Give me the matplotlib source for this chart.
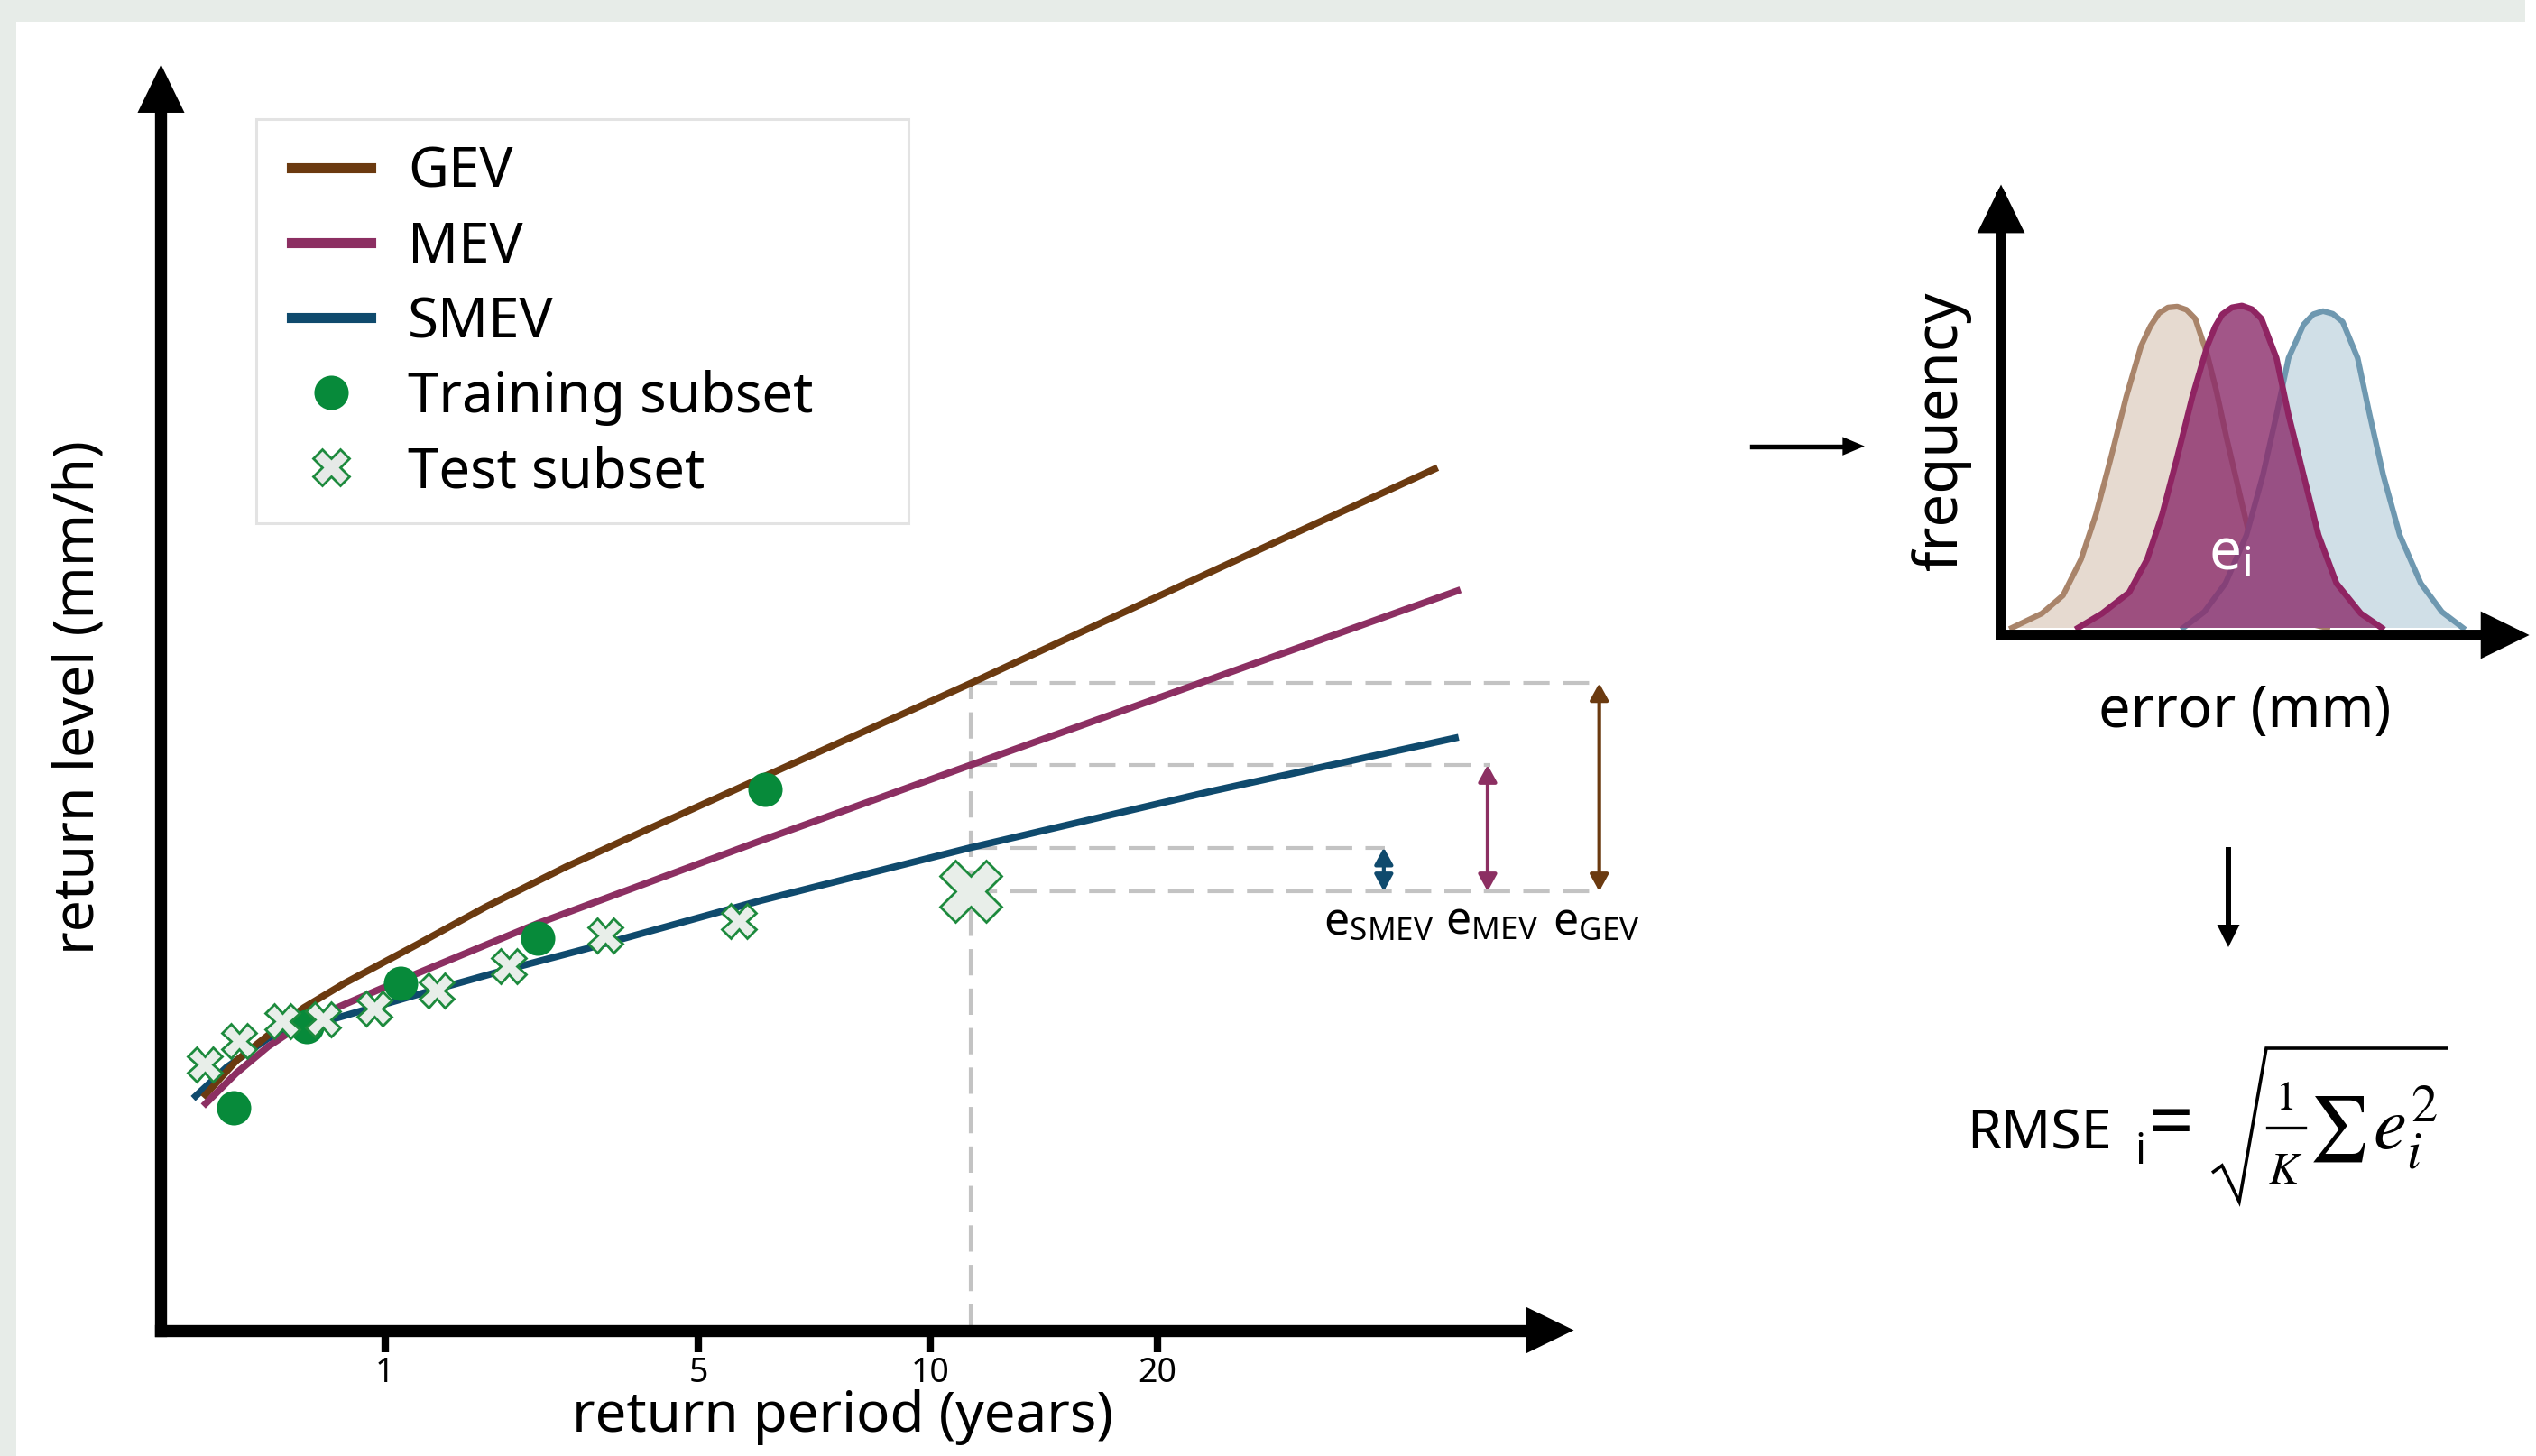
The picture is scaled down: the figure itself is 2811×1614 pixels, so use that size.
import matplotlib
matplotlib.use("Agg")
import matplotlib.pyplot as plt
import numpy as np
from matplotlib.lines import Line2D
from matplotlib.patches import Rectangle, FancyArrowPatch, ArrowStyle

plt.rcParams['font.family'] = ['Noto Sans', 'DejaVu Sans']
plt.rcParams['mathtext.fontset'] = 'stix'

# ---------------- data (schematic units) ----------------
xtick_pos = [15.84, 38.03, 54.45, 70.5]
xtick_labels = ["1", "5", "10", "20"]

gev_x = [3.14, 5.32, 7.60, 10.12, 12.99, 18.14, 22.95, 28.67, 34.40, 42.75, 57.33, 74.46, 90.14]
gev_y = [18.59, 21.28, 23.32, 25.49, 27.41, 30.48, 33.42, 36.61, 39.55, 43.77, 51.12, 59.99, 68.04]
mev_x = [3.16, 5.30, 7.58, 10.16, 13.01, 17.27, 26.68, 34.39, 42.40, 57.33, 74.46, 91.75]
mev_y = [17.90, 20.28, 22.41, 24.32, 25.75, 27.79, 32.14, 35.33, 38.65, 44.66, 51.50, 58.41]
smev_x = [2.45, 4.63, 7.58, 11.84, 18.14, 23.86, 30.39, 42.40, 57.33, 74.46, 91.61]
smev_y = [18.49, 20.76, 23.06, 24.47, 26.51, 28.30, 30.22, 33.93, 38.13, 42.61, 46.79]

train_x = [5.11, 10.29, 16.94, 26.68, 42.77]
train_y = [17.60, 23.96, 27.41, 30.99, 42.75]
test_x = [3.08, 5.53, 8.59, 11.44, 15.08, 19.50, 24.60, 31.47, 40.88]
test_y = [20.99, 22.85, 24.43, 24.56, 25.39, 26.86, 28.73, 31.19, 32.35]
sel_x = 57.33   # selected test return period
sel_y = 34.67   # observed test value

legend_labels = ["GEV", "MEV", "SMEV", "Training subset", "Test subset"]
err_labels = ["SMEV", "MEV", "GEV"]

# error distributions (schematic)
dgev_x = [2.05, 7.74, 11.73, 15.15, 17.98, 20.83, 23.69, 26.52, 28.3, 29.94, 31.6, 33.35, 35.1, 36.77,
          39.05, 40.76, 42.74, 44.74, 46.74, 49.3, 52.7, 57.26, 61.8]
dgev_y = [1.6, 4.8, 8.81, 16.82, 26.83, 39.5, 52.85, 64.2, 68.6, 71.5, 72.7, 72.9, 72.2, 70.2,
          62.2, 54.2, 43.5, 33.5, 23.5, 13.5, 6.1, 2.8, 1.6]
dmev_x = [14.57, 19.13, 24.25, 27.66, 30.52, 33.35, 36.2, 39.05, 40.5, 41.89, 43.7, 45.6, 47.5, 49.3,
          52.13, 54.42, 57.26, 60.1, 63.5, 68.1, 72.06]
dmev_y = [1.6, 4.8, 9.47, 16.82, 26.83, 39.5, 52.85, 64.2, 68.4, 71.2, 72.7, 73.1, 72.3, 70.2,
          61.5, 48.85, 35.5, 22.16, 11.47, 4.8, 1.6]
dsmev_x = [34.49, 38.47, 42.47, 46.45, 49.57, 52.13, 54.42, 57.26, 59.1, 60.96, 62.8, 64.67,
           67.5, 69.79, 72.35, 75.48, 79.46, 83.45, 87.43]
dsmev_y = [1.6, 5.15, 11.47, 22.16, 35.5, 48.85, 61.5, 68.9, 71.2, 71.9, 71.3, 69.5,
           61.5, 48.85, 35.5, 22.16, 11.47, 5.15, 1.6]

# ---------------- styles ----------------
C_GEV = "#6b3a10"
C_MEV = "#8c2f62"
C_SMEV = "#0f4a6d"
C_TRAIN = "#078a3a"
C_TEST_E = "#1d8a3d"
C_TEST_F = "#e8eee9"
C_DASH = "#c3c3c3"
C_BAND = "#e7ece8"

W, H = 2811, 1614
fig = plt.figure(figsize=(W / 100, H / 100), dpi=100)
fig.patch.set_facecolor("white")


def fx(px):
    return px / W


def fy(py):
    return 1 - py / H


# background bands
fig.add_artist(Rectangle((0, 0), fx(18), 1, transform=fig.transFigure,
                         facecolor=C_BAND, edgecolor="none", zorder=0))
fig.add_artist(Rectangle((0, fy(24)), fx(2799), 24 / H, transform=fig.transFigure,
                         facecolor=C_BAND, edgecolor="none", zorder=0))


def head(container, p0, p1, transform, hl_pt, hw_pt):
    ms = hl_pt / 0.4
    a = FancyArrowPatch(p0, p1, transform=transform,
                        arrowstyle=ArrowStyle("-|>", head_length=0.4, head_width=hw_pt / 2 / ms),
                        mutation_scale=ms, lw=0, color="k", shrinkA=0, shrinkB=0,
                        clip_on=False, zorder=6)
    if hasattr(container, "add_patch"):
        container.add_patch(a)
    else:
        container.add_artist(a)


def axis_arrows(ax, lw, hl, hw):
    ax.add_line(Line2D([0, 0], [0, 0.97], transform=ax.transAxes, lw=lw, color="k",
                       solid_capstyle="projecting", clip_on=False, zorder=6))
    ax.add_line(Line2D([0, 0.97], [0, 0], transform=ax.transAxes, lw=lw, color="k",
                       solid_capstyle="projecting", clip_on=False, zorder=6))
    head(ax, (0, 0), (0, 1), ax.transAxes, hl, hw)
    head(ax, (0, 0), (1, 0), ax.transAxes, hl, hw)


# ---------------- main panel ----------------
ax = fig.add_axes([0.0635, 0.08643, 0.55709, 0.86927])
ax.set_xlim(0, 100)
ax.set_ylim(0, 100)
ax.patch.set_alpha(0)
for s in ax.spines.values():
    s.set_visible(False)
ax.set_yticks([])
ax.set_xticks(xtick_pos, xtick_labels)
ax.tick_params(axis="x", length=17, width=6, pad=3.5, labelsize=27, color="k")
axis_arrows(ax, 9.6, 38.5, 37.5)

ax.set_xlabel("return period (years)", fontsize=44.5)
ax.xaxis.label.set_va("baseline")
ax.xaxis.set_label_coords(0.4824, -0.080)
ax.set_ylabel("return level (mm/h)", fontsize=45)
ax.yaxis.set_label_coords(-0.038, 0.50)

# curves
ax.plot(smev_x, smev_y, color=C_SMEV, lw=5.5, solid_joinstyle="round", zorder=2)
ax.plot(gev_x, gev_y, color=C_GEV, lw=5.5, solid_joinstyle="round", zorder=2)
ax.plot(mev_x, mev_y, color=C_MEV, lw=5.5, solid_joinstyle="round", zorder=2)

# dashed guide lines
gev_sel = np.interp(sel_x, gev_x, gev_y)
mev_sel = np.interp(sel_x, mev_x, mev_y)
smev_sel = np.interp(sel_x, smev_x, smev_y)
dash = dict(color=C_DASH, lw=3, ls=(0, (7, 3.5)), clip_on=False, zorder=1)
ax.plot([sel_x, sel_x], [0, gev_sel], **dash)
ax.plot([sel_x, 101.6], [gev_sel, gev_sel], **dash)
ax.plot([sel_x, 94.1], [mev_sel, mev_sel], **dash)
ax.plot([sel_x, 86.6], [smev_sel, smev_sel], **dash)
ax.plot([sel_x, 101.6], [sel_y, sel_y], **dash)

# points
ax.plot(train_x, train_y, ls="none", marker="o", ms=27.4, color=C_TRAIN, mec="none", zorder=3)
ax.plot(test_x, test_y, ls="none", marker="X", ms=27, mfc=C_TEST_F, mec=C_TEST_E, mew=2, zorder=4)
ax.plot([sel_x], [sel_y], ls="none", marker="X", ms=49, mfc=C_TEST_F, mec=C_TEST_E, mew=2,
        zorder=4, clip_on=False)

# error arrows and labels
err_x = [86.55, 93.9, 101.8]
err_lx = [86.2, 94.2, 101.6]
err_top = [smev_sel, mev_sel, gev_sel]
err_col = [C_SMEV, C_MEV, C_GEV]
for ex, lx, top, col, lab in zip(err_x, err_lx, err_top, err_col, err_labels):
    ax.annotate("", xy=(ex, top), xytext=(ex, sel_y),
                arrowprops=dict(arrowstyle=ArrowStyle("<|-|>", head_length=0.4, head_width=0.22),
                                mutation_scale=28, lw=3, color=col, shrinkA=0, shrinkB=0),
                annotation_clip=False)
    ax.text(lx, 31.3, r"e$_{\mathregular{%s}}$" % lab, fontsize=36, ha="center",
            va="baseline", clip_on=False)

# legend
handles = [Line2D([], [], color=C_GEV, lw=8),
           Line2D([], [], color=C_MEV, lw=8),
           Line2D([], [], color=C_SMEV, lw=8),
           Line2D([], [], ls="none", marker="o", ms=27.4, color=C_TRAIN, mec="none"),
           Line2D([], [], ls="none", marker="X", ms=29, mfc="#e6e9e7", mec=C_TEST_E, mew=2)]
leg = ax.legend(handles, legend_labels, loc="upper left", bbox_to_anchor=(fx(323.3), fy(161)),
                bbox_transform=fig.transFigure, frameon=False, fontsize=44.5, handlelength=1.42,
                handletextpad=0.66, labelspacing=0.34, borderpad=0, borderaxespad=0)
leg.set_zorder(8)
ax.add_patch(Rectangle((fx(284), fy(580.4)), fx(1007 - 284), (580.4 - 131.7) / H,
                       transform=fig.transFigure, facecolor="white", edgecolor="#e3e3e3",
                       lw=2.2, clip_on=False, zorder=7))

# ---------------- connecting arrows ----------------
fig.add_artist(Line2D([fx(1941.9), fx(2050)], [fy(494.6)] * 2, transform=fig.transFigure,
                      lw=3.9, color="k"))
head(fig, (fx(1941.9), fy(494.6)), (fx(2066.8), fy(494.6)), fig.transFigure, 17.6, 14.8)
fig.add_artist(Line2D([fx(2470)] * 2, [fy(941.7), fy(1035)], transform=fig.transFigure,
                      lw=4.3, color="k"))
head(fig, (fx(2470), fy(941.7)), (fx(2470), fy(1050)), fig.transFigure, 18, 18)

# ---------------- distribution panel ----------------
ax2 = fig.add_axes([0.78905, 0.56382, 0.20832, 0.30947])
ax2.set_xlim(0, 100)
ax2.set_ylim(0, 100)
ax2.patch.set_alpha(0)
for s in ax2.spines.values():
    s.set_visible(False)
ax2.set_xticks([])
ax2.set_yticks([])
axis_arrows(ax2, 8.6, 38.8, 38)
ax2.set_xlabel("error (mm)", fontsize=45.5)
ax2.xaxis.label.set_va("baseline")
ax2.xaxis.set_label_coords(0.461, -0.204)
ax2.set_ylabel("frequency", fontsize=47)
ax2.yaxis.set_label_coords(-0.056, 0.4525)

ax2.fill(dgev_x, dgev_y, facecolor="#e6dad0", edgecolor="none", zorder=1)
ax2.plot(dgev_x, dgev_y, color="#a9846a", lw=4.5, solid_joinstyle="round", zorder=1.1)
ax2.fill(dsmev_x, dsmev_y, facecolor="#d0dfe7", edgecolor="none", zorder=2)
ax2.plot(dsmev_x, dsmev_y, color="#6e98b0", lw=4.5, solid_joinstyle="round", zorder=2.1)
ax2.fill(dmev_x, dmev_y, facecolor="#8b2c6b", alpha=0.8, edgecolor="none", zorder=3)
ax2.plot(dmev_x, dmev_y, color="#8f2462", lw=4.8, solid_joinstyle="round", zorder=3.1)
ax2.text(39.2, 14.5, r"e$_{\mathregular{i}}$", color="white", fontsize=46, ha="left",
         va="baseline", zorder=5)

# ---------------- RMSE formula ----------------
fig.text(fx(2180), fy(1273.3), "RMSE", fontsize=44, ha="left", va="baseline")
fig.text(fx(2366), fy(1290), "i", fontsize=34, ha="left", va="baseline")
fig.text(fx(2381), fy(1273.3), "=", fontsize=64, ha="left", va="baseline")
# radical sign
fig.add_artist(Line2D([fx(2452), fx(2463), fx(2482), fx(2512), fx(2713)],
                      [fy(1300), fy(1292), fy(1332), fy(1162), fy(1162)],
                      transform=fig.transFigure, lw=2.6, color="k",
                      solid_joinstyle="miter", solid_capstyle="butt"))
fig.text(fx(2532), fy(1230), r"$1$", fontsize=33, ha="center", va="baseline")
fig.add_artist(Line2D([fx(2513), fx(2555)], [fy(1250)] * 2, transform=fig.transFigure,
                      lw=2.4, color="k"))
fig.text(fx(2533), fy(1311.5), r"$K$", fontsize=36, ha="center", va="baseline")
fig.text(fx(2591), fy(1251.5), r"$\sum$", fontsize=52, ha="center", va="center")
fig.text(fx(2630), fy(1273.3), r"$e_i^2$", fontsize=60, ha="left", va="baseline")

fig.savefig("out.png", dpi=100, facecolor=fig.get_facecolor())
